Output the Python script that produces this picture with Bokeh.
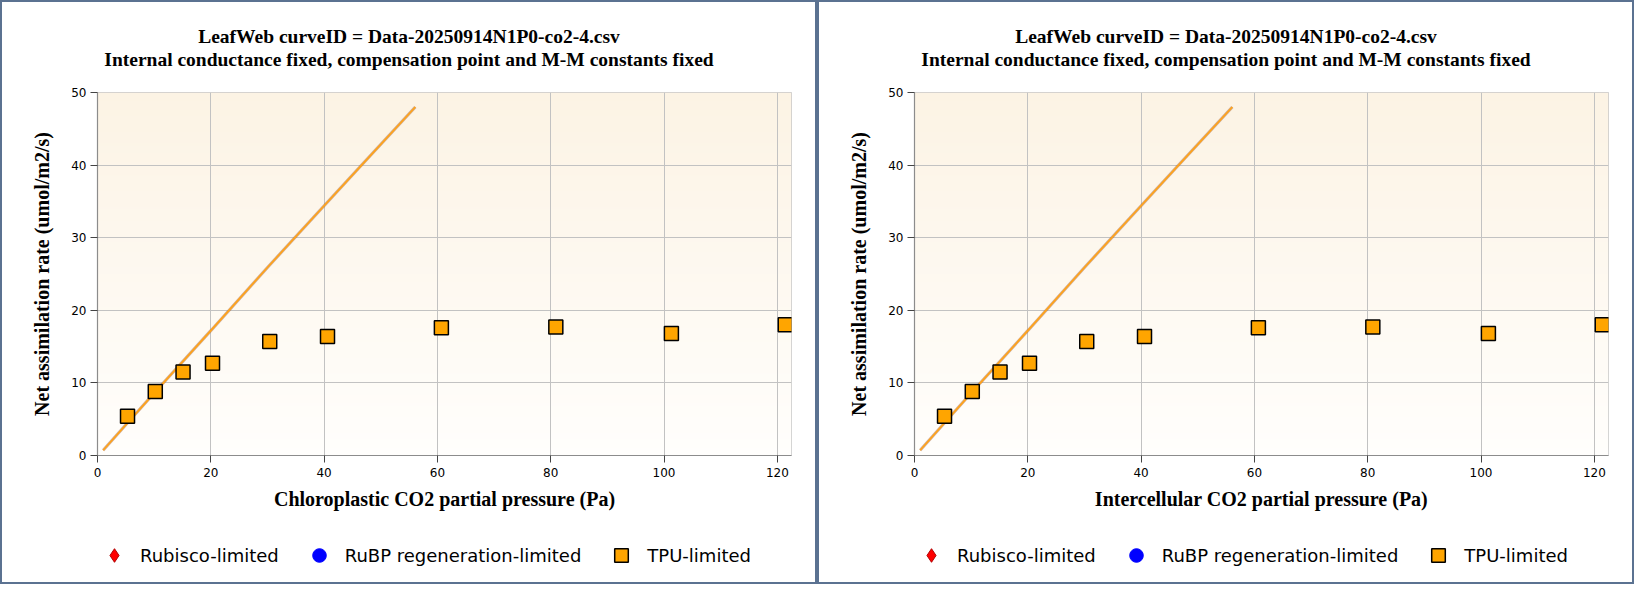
import numpy as np
from bokeh.plotting import figure
from bokeh.models import Range1d, Label, Legend, LegendItem, Spacer
from bokeh.layouts import row, column
from bokeh.embed import file_html
from bokeh.resources import INLINE

# ---------------- data ----------------
TITLE_LINE_1 = "LeafWeb curveID = Data-20250914N1P0-co2-4.csv"
TITLE_LINE_2 = "Internal conductance fixed, compensation point and M-M constants fixed"
X_LABELS = ["Chloroplastic CO2 partial pressure (Pa)",
            "Intercellular CO2 partial pressure (Pa)"]
Y_LABEL = "Net assimilation rate (umol/m2/s)"
LEGEND_NAMES = ["Rubisco-limited", "RuBP regeneration-limited", "TPU-limited"]

X_TICKS = [0, 20, 40, 60, 80, 100, 120]
Y_TICKS = [0, 10, 20, 30, 40, 50]
X_RANGE = (0, 122.5)
Y_RANGE = (0, 50)

# observed points (TPU-limited)
tpu_x = [5.3, 10.2, 15.1, 20.3, 30.4, 40.6, 60.7, 80.9, 101.3, 121.4]
tpu_y = [5.4, 8.8, 11.5, 12.7, 15.7, 16.4, 17.6, 17.7, 16.8, 18.0]

# fitted (Rubisco-limited) curve
fit_x = [1.0, 10.0, 20.0, 30.0, 40.0, 46.5, 56.1]
fit_y = [0.72, 8.6, 17.2, 25.9, 34.4, 39.9, 48.0]

# no points fall in these categories (legend entries only)
rubisco_x, rubisco_y = [np.nan], [np.nan]
rubp_x, rubp_y = [np.nan], [np.nan]

# ---------------- style ----------------
W, H = 817, 584          # one panel, frame bars included
BAR = 2                  # panel border thickness
W_IN = W - 2 * BAR
H_TITLE, H_LEG = 80, 65
H_MAIN = H - 2 * BAR - H_TITLE - H_LEG
BORDER_L, BORDER_R, BORDER_T, BORDER_B = 95, 24, 10, 62
PANEL_BORDER = "#5b7291"
SERIF = "Liberation Serif"
SANS = "DejaVu Sans"
BG_TOP = (252, 243, 228)
BG_BOTTOM = (255, 254, 252)


def gradient_image(n=300):
    img = np.empty((n, 1), dtype=np.uint32)
    view = img.view(dtype=np.uint8).reshape((n, 1, 4))
    t = np.linspace(0.0, 1.0, n)  # row 0 = bottom
    for k in range(3):
        view[:, 0, k] = np.round(BG_BOTTOM[k] + (BG_TOP[k] - BG_BOTTOM[k]) * t).astype(np.uint8)
    view[:, 0, 3] = 255
    return img


def blank_figure(height):
    f = figure(width=W_IN, height=height, x_range=Range1d(0, 1), y_range=Range1d(0, 1),
               output_backend="svg", toolbar_location=None,
               x_axis_location=None, y_axis_location=None,
               min_border=0, background_fill_color="white",
               border_fill_color="white", outline_line_color=None)
    f.xgrid.visible = False
    f.ygrid.visible = False
    return f


def make_title():
    # frames in a column are aligned, so x is measured from the main frame's left edge
    t = blank_figure(H_TITLE)
    cx = W_IN / 2 - BORDER_L
    for txt, y in ((TITLE_LINE_1, 46.5), (TITLE_LINE_2, 23.5)):
        t.add_layout(Label(x=cx, y=y, x_units="screen", y_units="screen",
                           text=txt, text_align="center", text_baseline="alphabetic",
                           text_font=SERIF, text_font_size="19.5px",
                           text_font_style="bold", text_color="black"))
    return t


def make_main(x_label):
    p = figure(width=W_IN, height=H_MAIN,
               x_range=Range1d(*X_RANGE), y_range=Range1d(*Y_RANGE),
               output_backend="svg", toolbar_location=None,
               min_border_left=BORDER_L, min_border_right=BORDER_R,
               min_border_top=BORDER_T, min_border_bottom=BORDER_B,
               background_fill_color="white", border_fill_color="white")

    p.image_rgba(image=[gradient_image()], x=X_RANGE[0], y=Y_RANGE[0],
                 dw=X_RANGE[1] - X_RANGE[0], dh=Y_RANGE[1] - Y_RANGE[0],
                 level="image")

    p.xaxis.ticker = X_TICKS
    p.yaxis.ticker = Y_TICKS
    p.xaxis.axis_label = x_label
    p.yaxis.axis_label = Y_LABEL
    for ax in (p.xaxis, p.yaxis):
        ax.axis_label_text_font = SERIF
        ax.axis_label_text_font_size = "20px"
        ax.axis_label_text_font_style = "bold"
        ax.axis_label_text_color = "black"
        ax.major_label_text_font = SANS
        ax.major_label_text_font_size = "12px"
        ax.major_label_text_color = "black"
        ax.axis_line_color = "#8c8c8c"
        ax.axis_line_width = 1.2
        ax.major_tick_line_color = "#444444"
        ax.major_tick_in = 0
        ax.major_tick_out = 7
        ax.minor_tick_line_color = None
    p.xaxis.major_label_standoff = 5
    p.xaxis.axis_label_standoff = 8
    p.yaxis.major_label_standoff = 4
    p.yaxis.axis_label_standoff = 15

    p.grid.grid_line_color = "#c2c2c2"
    p.grid.grid_line_width = 1
    p.outline_line_color = "#c8c8c8"
    p.outline_line_width = 1

    p.line(fit_x, fit_y, line_color="#a8683f", line_width=3.0, line_alpha=0.5)
    p.line(fit_x, fit_y, line_color="#ffa31a", line_width=1.7)

    p.scatter(rubisco_x, rubisco_y, marker="diamond", size=11,
              fill_color="#ff0000", line_color="#b00000", line_width=1)
    p.scatter(rubp_x, rubp_y, marker="circle", size=13,
              fill_color="#0000ff", line_color="#0000ff", line_width=1)
    p.scatter(tpu_x, tpu_y, marker="square", size=14,
              fill_color="#ffa500", line_color="black", line_width=1.5)
    return p


def make_legend():
    lf = blank_figure(H_LEG)
    # same series as the chart; their data lie outside this strip's ranges,
    # so only the legend swatches show
    r_rub = lf.scatter(rubisco_x, rubisco_y, marker="diamond", size=11,
                       fill_color="#ff0000", line_color="#b00000", line_width=1)
    r_rubp = lf.scatter(rubp_x, rubp_y, marker="circle", size=13,
                        fill_color="#0000ff", line_color="#0000ff", line_width=1)
    r_tpu = lf.scatter(tpu_x, tpu_y, marker="square", size=14,
                       fill_color="#ffa500", line_color="black", line_width=1.5)
    legend = Legend(items=[LegendItem(label=LEGEND_NAMES[0], renderers=[r_rub]),
                           LegendItem(label=LEGEND_NAMES[1], renderers=[r_rubp]),
                           LegendItem(label=LEGEND_NAMES[2], renderers=[r_tpu])],
                    orientation="horizontal", location=(0, 10),
                    glyph_width=34, glyph_height=34, label_standoff=9,
                    spacing=23, padding=0, margin=0,
                    label_text_font=SANS, label_text_font_size="18px",
                    label_text_color="black",
                    border_line_color=None, background_fill_alpha=0)
    lf.add_layout(legend, "center")
    return lf


def bar(width, height):
    return Spacer(width=width, height=height,
                  styles={"background-color": PANEL_BORDER})


def make_panel(x_label):
    inner = column(bar(W_IN, BAR), make_title(), make_main(x_label), make_legend(),
                   bar(W_IN, BAR), spacing=0)
    return row(bar(BAR, H), inner, bar(BAR, H), spacing=0)


layout = row(*[make_panel(lbl) for lbl in X_LABELS], spacing=0)

open("out.html", "w").write(file_html(layout, INLINE))
